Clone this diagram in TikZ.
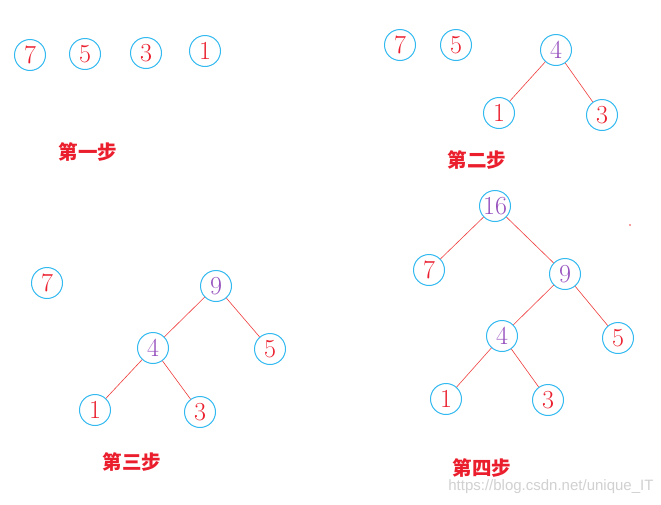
\documentclass[tikz,border=0pt]{standalone}
\usepackage{fontspec}
\newfontfamily\cjk{Noto Sans CJK SC}
\setsansfont{Liberation Sans}
\definecolor{ring}{RGB}{50,185,240}
\definecolor{numred}{RGB}{235,30,45}
\definecolor{numpur}{RGB}{150,80,190}
\definecolor{edgered}{RGB}{240,60,60}
\tikzset{
  nd/.style={circle,draw=ring,line width=1pt,minimum size=31pt,inner sep=0pt,text=numred,font=\fontsize{26}{26}\selectfont},
  pn/.style={nd,text=numpur},
  ln/.style={draw=edgered,line width=0.6pt},
  steplabel/.style={text=numred,font=\cjk\bfseries\fontsize{19.5}{19.5}\selectfont}
}
\begin{document}
\begin{tikzpicture}[x=1pt,y=-1pt]
\useasboundingbox[fill=white] (0,0) rectangle (661,504);
% step 1
\node[nd] (a7) at (30,55) {7};
\node[nd] (a5) at (85,54) {5};
\node[nd] (a3) at (146,53) {3};
\node[nd] (a1) at (205,51) {1};
\node[steplabel] (l1) at (88,152) {第一步};
% step 2
\node[nd] (b7) at (400,45) {7};
\node[nd] (b5) at (456,45) {5};
\node[pn] (b4) at (556,50) {4};
\node[nd] (b1) at (499,113) {1};
\node[nd] (b3) at (602,115) {3};
\draw[ln] (b4) -- (b1);
\draw[ln] (b4) -- (b3);
\node[steplabel] (l2) at (477,160) {第二步};
% step 3
\node[nd] (c7) at (47,283) {7};
\node[pn] (c9) at (216,286) {9};
\node[pn] (c4) at (153,348) {4};
\node[nd] (c5) at (270,349) {5};
\node[nd] (c1) at (95,410) {1};
\node[nd] (c3) at (200,412) {3};
\draw[ln] (c9) -- (c4);
\draw[ln] (c9) -- (c5);
\draw[ln] (c4) -- (c1);
\draw[ln] (c4) -- (c3);
\node[steplabel] (l3) at (132,462) {第三步};
% step 4
\node[pn] (d16) at (495,206) {16};
\node[nd] (d7) at (429,270) {7};
\node[pn] (d9) at (565,274) {9};
\node[pn] (d4) at (502,336) {4};
\node[nd] (d5) at (618,338) {5};
\node[nd] (d1) at (446,399) {1};
\node[nd] (d3) at (548,400) {3};
\draw[ln] (d16) -- (d7);
\draw[ln] (d16) -- (d9);
\draw[ln] (d9) -- (d4);
\draw[ln] (d9) -- (d5);
\draw[ln] (d4) -- (d1);
\draw[ln] (d4) -- (d3);
\node[steplabel] (l4) at (482,468) {第四步};
\fill[edgered] (630,225) circle (0.8);
\node[text=black!18,font=\sffamily\fontsize{15}{15}\selectfont,anchor=east] (wm) at (657,487) {https://blog.csdn.net/unique\_IT};
\end{tikzpicture}
\end{document}
